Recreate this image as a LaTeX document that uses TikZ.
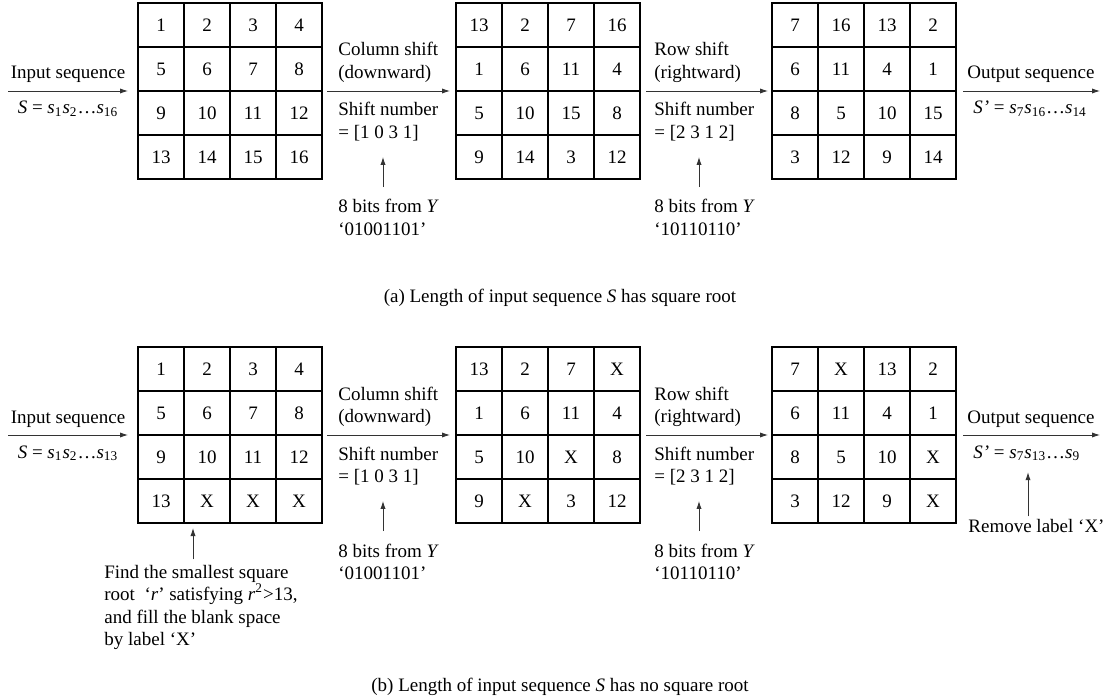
\documentclass[tikz,border=0pt]{standalone}
\usepackage{fontspec}
\setmainfont{Liberation Serif}
\usetikzlibrary{arrows.meta,calc}
\tikzset{
  cell/.style={draw, line width=0.6pt, minimum width=23pt, minimum height=22pt, inner sep=0pt, outer sep=0pt},
  flow/.style={-{Latex[length=4pt,width=2.6pt]}, line width=0.45pt, black!80},
  txt/.style={inner sep=0pt, anchor=base west, align=left},
}
\newcommand{\sq}[1]{\textit{s}\textsubscript{#1}}
% 4x4 grid: name, left, top, entries
\newcommand{\cellgrid}[4]{%
  \foreach \v [count=\k from 0] in {#4} {
    \pgfmathtruncatemacro{\colno}{mod(\k,4)}
    \pgfmathtruncatemacro{\rowno}{div(\k,4)}
    \node[cell] (#1-\k) at ({#2+23+46*\colno},{#3+22+44*\rowno}) {\v};
  }%
}

\begin{document}
\begin{tikzpicture}[x=0.5pt, y=-0.5pt, font=\fontsize{9.5}{11.25}\selectfont]
  \useasboundingbox (0,0) rectangle (1119,700);

  % (a) square length
  \cellgrid{a1}{138}{3}{1,2,3,4,5,6,7,8,9,10,11,12,13,14,15,16}
  \cellgrid{a2}{456}{3}{13,2,7,16,1,6,11,4,5,10,15,8,9,14,3,12}
  \cellgrid{a3}{772}{3}{7,16,13,2,6,11,4,1,8,5,10,15,3,12,9,14}

  \coordinate (ina) at (8,91);
  \coordinate (outa) at (1100,91);
  \draw[flow] (ina) -- ([xshift=-5pt]a1-4.south west);
  \draw[flow] ([xshift=2.5pt]a1-7.south east) -- ([xshift=-3pt]a2-4.south west);
  \draw[flow] ([xshift=3pt]a2-7.south east) -- ([xshift=-2pt]a3-4.south west);
  \draw[flow] ([xshift=3.5pt]a3-7.south east) -- (outa);

  \node[txt, anchor=base] (ina-top) at (68,79) {Input sequence};
  \node[txt, anchor=base] (ina-bot) at (68,114) {\textit{S} = \sq{1}\sq{2}…\sq{16}};
  \node[txt] (colA) at (338,78.5) {Column shift\\(downward)};
  \node[txt] (snA) at (338,138.5) {Shift number\\= [1 0 3 1]};
  \node[txt] (bitsA) at (338,235.5) {8 bits from \textit{Y}\\‘01001101’};
  \node[txt] (rowA) at (654,78.5) {Row shift\\(rightward)};
  \node[txt] (snB) at (654,138.5) {Shift number\\= [2 3 1 2]};
  \node[txt] (bitsB) at (654,235.5) {8 bits from \textit{Y}\\‘10110110’};
  \node[txt] (outa-top) at (967,79) {Output sequence};
  \node[txt] (outa-bot) at (973,114) {\textit{S’} = \sq{7}\sq{16}…\sq{14}};
  \draw[flow] ([xshift=22.5pt,yshift=6pt]bitsA.north west) -- ([xshift=22.5pt,yshift=-7.75pt]snA.south west);
  \draw[flow] ([xshift=22.5pt,yshift=6pt]bitsB.north west) -- ([xshift=22.5pt,yshift=-7.75pt]snB.south west);
  \node[txt, anchor=base] (capa) at (560,303) {(a) Length of input sequence \textit{S} has square root};

  % (b) padded with X
  \cellgrid{b1}{138}{347}{1,2,3,4,5,6,7,8,9,10,11,12,13,X,X,X}
  \cellgrid{b2}{456}{347}{13,2,7,X,1,6,11,4,5,10,X,8,9,X,3,12}
  \cellgrid{b3}{772}{347}{7,X,13,2,6,11,4,1,8,5,10,X,3,12,9,X}

  \coordinate (inb) at (8,435);
  \coordinate (outb) at (1100,435);
  \draw[flow] (inb) -- ([xshift=-5pt]b1-4.south west);
  \draw[flow] ([xshift=2.5pt]b1-7.south east) -- ([xshift=-3pt]b2-4.south west);
  \draw[flow] ([xshift=3pt]b2-7.south east) -- ([xshift=-2pt]b3-4.south west);
  \draw[flow] ([xshift=3.5pt]b3-7.south east) -- (outb);

  \node[txt, anchor=base] (inb-top) at (68,423) {Input sequence};
  \node[txt, anchor=base] (inb-bot) at (68,458) {\textit{S} = \sq{1}\sq{2}…\sq{13}};
  \node[txt] (colB) at (338,422.5) {Column shift\\(downward)};
  \node[txt] (snC) at (338,482.5) {Shift number\\= [1 0 3 1]};
  \node[txt] (bitsC) at (338,579.5) {8 bits from \textit{Y}\\‘01001101’};
  \node[txt] (rowB) at (654,422.5) {Row shift\\(rightward)};
  \node[txt] (snD) at (654,482.5) {Shift number\\= [2 3 1 2]};
  \node[txt] (bitsD) at (654,579.5) {8 bits from \textit{Y}\\‘10110110’};
  \node[txt] (outb-top) at (967,423) {Output sequence};
  \node[txt] (outb-bot) at (973,458) {\textit{S’} = \sq{7}\sq{13}…\sq{9}};
  \draw[flow] ([xshift=22.5pt,yshift=6pt]bitsC.north west) -- ([xshift=22.5pt,yshift=-7.75pt]snC.south west);
  \draw[flow] ([xshift=22.5pt,yshift=6pt]bitsD.north west) -- ([xshift=22.5pt,yshift=-7.75pt]snD.south west);

  \node[txt] (fill) at (104,645.5) {Find the smallest square\\root\ \ ‘\textit{r}’ satisfying \textit{r}\textsuperscript{2}>13,\\and fill the blank space\\by label ‘X’};
  \draw[flow] ([xshift=44.5pt,yshift=2.5pt]fill.north west) -- ([xshift=4.5pt,yshift=-2.5pt]b1-12.south east);
  \node[txt] (rm) at (968,532) {Remove label ‘X’};
  \draw[flow] ([xshift=30pt,yshift=1pt]rm.north west) -- ([xshift=27.5pt,yshift=-5.5pt]outb-bot.south west);
  \node[txt, anchor=base] (capb) at (560,691) {(b) Length of input sequence \textit{S} has no square root};
\end{tikzpicture}
\end{document}
